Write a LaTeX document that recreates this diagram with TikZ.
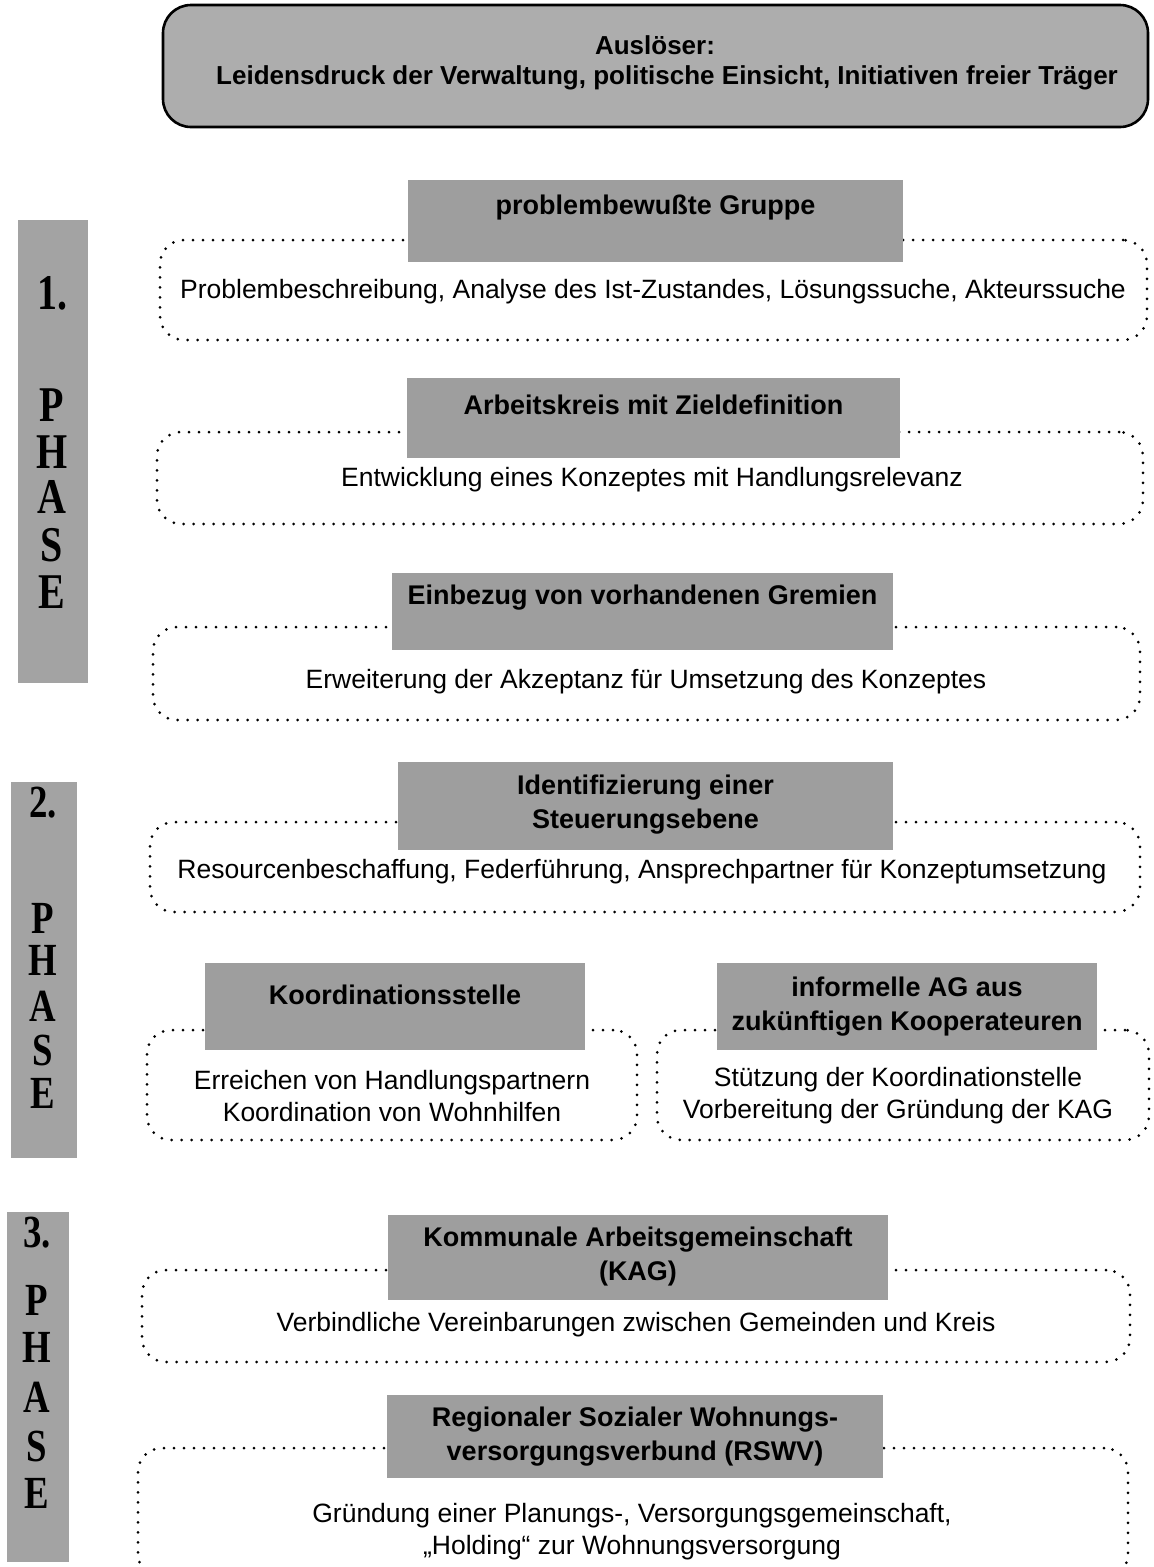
\documentclass[tikz,border=0pt]{standalone}
\usepackage{fontspec}
\setmainfont{Liberation Sans}
\newfontfamily\phasefont{Liberation Serif}
\definecolor{labelgray}{gray}{0.62}
\definecolor{topgray}{gray}{0.68}
\definecolor{phasegray}{gray}{0.64}
\newcommand\phl[1]{\scalebox{0.8}[1]{#1}}
\begin{document}
\begin{tikzpicture}[x=1pt,y=-1pt,
  dotbox/.style={draw, line width=3pt, dash pattern=on 0pt off 10pt, line cap=round, rounded corners=24pt, inner sep=0pt},
  labelbox/.style={fill=labelgray, inner sep=0pt},
  labeltext/.style={font=\fontsize{27}{34}\selectfont\bfseries, align=center, inner sep=0pt},
  toptext/.style={font=\fontsize{26}{32}\selectfont\bfseries, align=center, inner sep=0pt},
  bodytext/.style={font=\fontsize{26.5}{32}\selectfont, align=center, inner sep=0pt},
  phasebar/.style={fill=phasegray, inner sep=0pt},
  phaseletter/.style={font=\fontsize{50}{50}\selectfont\phasefont\bfseries, inner sep=0pt},
  phaseletters/.style={font=\fontsize{46}{46}\selectfont\phasefont\bfseries, inner sep=0pt}]
\useasboundingbox (0,0) rectangle (1154,1567);
\begin{scope}
\clip (0,0) rectangle (1154,1567);
% top box
\node (top) [draw, line width=2.6pt, fill=topgray, rounded corners=28pt, minimum width=985pt, minimum height=122pt] at (655.5,66) {};
\node (topa) [toptext] at (655,45) {Auslöser:};
\node (topb) [toptext] at (667,78) {Leidensdruck der Verwaltung, politische Einsicht, Initiativen freier Träger};

% phase bars
\node (p1) [phasebar, minimum width=70pt, minimum height=463pt] at (53,451.5) {};
\node (p2) [phasebar, minimum width=66pt, minimum height=376pt] at (44,970) {};
\node (p3) [phasebar, minimum width=62pt, minimum height=350pt] at (38,1387) {};

\foreach \t/\y [count=\i] in {1./293,P/405,H/452,A/497,S/545,E/592}
  \node (p1l\i) [phaseletter] at (52,\y) {\phl{\t}};
\foreach \t/\y [count=\i] in {2./803,P/918,H/960,A/1006,S/1050,E/1093}
  \node (p2l\i) [phaseletters] at (43,\y) {\phl{\t}};
\foreach \t/\y [count=\i] in {3./1233,P/1300,H/1347,A/1397,S/1446,E/1493}
  \node (p3l\i) [phaseletters] at (37,\y) {\phl{\t}};

% phase 1
\node (b1) [dotbox, minimum width=987pt, minimum height=100pt] at (653.5,290) {};
\node (l1) [labelbox, minimum width=495pt, minimum height=82pt] at (655.5,221) {};
\node (l1t) [labeltext] at (655.5,208) {problembewußte Gruppe};
\node (b1t) [bodytext] at (653,292) {Problembeschreibung, Analyse des Ist-Zustandes, Lösungssuche, Akteurssuche};

\node (b2) [dotbox, minimum width=986pt, minimum height=92pt] at (650,478) {};
\node (l2) [labelbox, minimum width=493pt, minimum height=80pt] at (653.5,418) {};
\node (l2t) [labeltext] at (653.5,405) {Arbeitskreis mit Zieldefinition};
\node (b2t) [bodytext] at (652,480) {Entwicklung eines Konzeptes mit Handlungsrelevanz};

\node (b3) [dotbox, minimum width=987pt, minimum height=93pt] at (646.5,673.5) {};
\node (l3) [labelbox, minimum width=501pt, minimum height=77pt] at (642.5,611.5) {};
\node (l3t) [labeltext] at (642.5,598) {Einbezug von vorhandenen Gremien};
\node (b3t) [bodytext] at (646,682) {Erweiterung der Akzeptanz für Umsetzung des Konzeptes};

% phase 2
\node (b4) [dotbox, minimum width=990pt, minimum height=90pt] at (645,867) {};
\node (l4) [labelbox, minimum width=495pt, minimum height=88pt] at (645.5,806) {};
\node (l4t) [labeltext] at (645.5,805) {Identifizierung einer\\Steuerungsebene};
\node (b4t) [bodytext] at (642,872) {Resourcenbeschaffung, Federführung, Ansprechpartner für Konzeptumsetzung};

\node (b5) [dotbox, minimum width=490pt, minimum height=110pt] at (392,1085) {};
\node (l5) [labelbox, minimum width=380pt, minimum height=87pt] at (395,1006.5) {};
\node (l5t) [labeltext] at (395,995) {Koordinationsstelle};
\node (b5t) [bodytext] at (392,1096) {Erreichen von Handlungspartnern\\Koordination von Wohnhilfen};

\node (b6) [dotbox, minimum width=492pt, minimum height=110pt] at (903,1085) {};
\node (l6) [labelbox, minimum width=380pt, minimum height=87pt] at (907,1006.5) {};
\node (l6t) [labeltext] at (907,1007) {informelle AG aus\\zukünftigen Kooperateuren};
\node (b6t) [bodytext] at (898,1096) {Stützung der Koordinationstelle\\Vorbereitung der Gründung der KAG};

% phase 3
\node (b7) [dotbox, minimum width=988pt, minimum height=92pt] at (636,1316) {};
\node (l7) [labelbox, minimum width=500pt, minimum height=85pt] at (638,1257.5) {};
\node (l7t) [labeltext] at (638,1257) {Kommunale Arbeitsgemeinschaft\\(KAG)};
\node (b7t) [bodytext] at (636,1325) {Verbindliche Vereinbarungen zwischen Gemeinden und Kreis};

\node (b8) [dotbox, minimum width=990pt, minimum height=130pt] at (633,1513) {};
\node (l8) [labelbox, minimum width=496pt, minimum height=83pt] at (635,1436.5) {};
\node (l8t) [labeltext] at (635,1437) {Regionaler Sozialer Wohnungs-\\versorgungsverbund (RSWV)};
\node (b8t) [bodytext] at (632,1532) {Gründung einer Planungs-, Versorgungsgemeinschaft,\\„Holding“ zur Wohnungsversorgung};
\end{scope}
\end{tikzpicture}
\end{document}
